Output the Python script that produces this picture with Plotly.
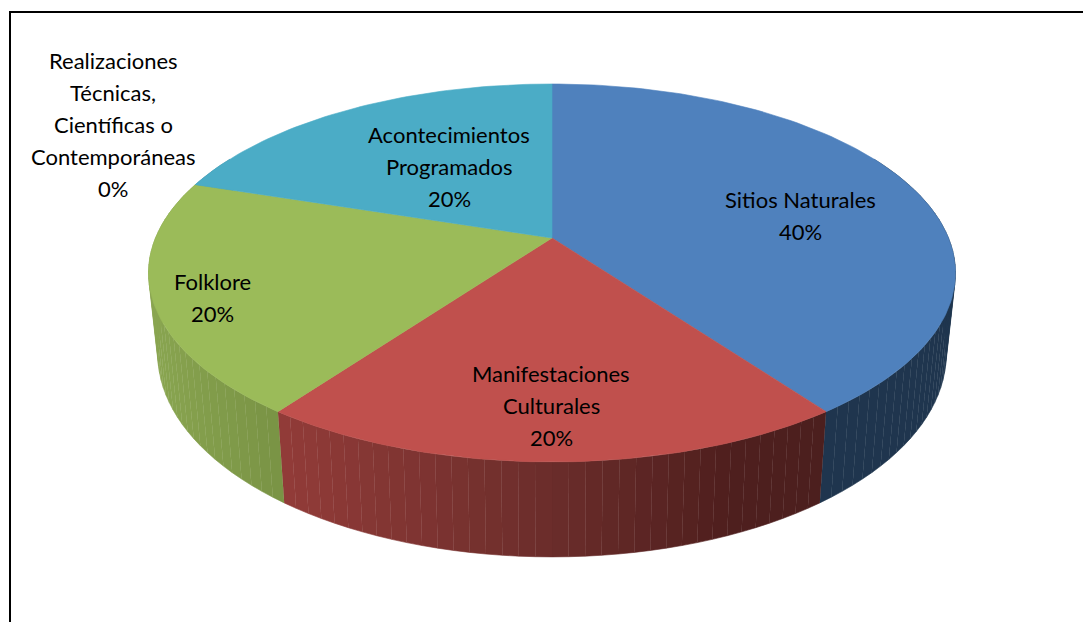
import math
import plotly.graph_objects as go

# chart data, clockwise from the top of the pie
categories = ["Sitios Naturales", "Manifestaciones Culturales", "Folklore",
              "Realizaciones Técnicas, Científicas o Contemporáneas", "Acontecimientos Programados"]
shares = [40, 20, 20, 0, 20]
top_colors = ["#4F81BD", "#C0504D", "#9BBB59", "#8064A2", "#4BACC6"]

# how the category names wrap on the picture
label_lines = [
    ["Sitios Naturales"],
    ["Manifestaciones", "Culturales"],
    ["Folklore"],
    ["Realizaciones", "Técnicas,", "Científicas o", "Contemporáneas"],
    ["Acontecimientos", "Programados"],
]
label_anchor = [(800, 199), (551, 373), (212, 281), (113, 60), (449, 134)]
LINE_STEP = 32

# wall shading, stops are (screen x, colour)
wall_stops = [
    [(0, "#1F354E"), (1083, "#1F354E")],
    [(278, "#933C39"), (552, "#6B2D2B"), (730, "#4F1F1E"), (827, "#4C1F1E")],
    [(150, "#8AA651"), (278, "#7A9445")],
    [(0, "#8064A2"), (1083, "#8064A2")],
    [(0, "#3A8CA3"), (1083, "#3A8CA3")],
]

CX = 552
TILT = 0.185


def project(angle, r=1.0, bottom=False):
    # perspective view of a point on the top or bottom disc, angle clockwise from far side
    u = r * math.sin(angle)
    v = r * math.cos(angle)
    w = 1 + TILT * v
    if bottom:
        return CX + 387.4 * u / w, 316.4 - 196 * v / w
    return CX + 396.5 * u / w, 238 - 182.5 * v / w


def hex_rgb(c):
    return [int(c[i:i + 2], 16) for i in (1, 3, 5)]


def wall_color(stops, x):
    if x <= stops[0][0]:
        return stops[0][1]
    for (x0, c0), (x1, c1) in zip(stops, stops[1:]):
        if x <= x1:
            t = (x - x0) / (x1 - x0)
            a, b = hex_rgb(c0), hex_rgb(c1)
            return "rgb(%d,%d,%d)" % tuple(a[i] + (b[i] - a[i]) * t for i in range(3))
    return stops[-1][1]


def polygon(xs, ys, color):
    return go.Scatter(x=xs, y=ys, mode="lines", fill="toself", fillcolor=color,
                      line=dict(color=color, width=0.6), hoverinfo="skip", showlegend=False)


fig = go.Figure()

total = sum(shares)
edges = [0.0]
for s in shares:
    edges.append(edges[-1] + 2 * math.pi * s / total)

# side walls, only the near half of the pie shows them
VISIBLE_FROM = math.radians(62)
VISIBLE_TO = math.radians(298)
for i, s in enumerate(shares):
    start = max(edges[i], VISIBLE_FROM)
    end = min(edges[i + 1], VISIBLE_TO)
    if s == 0 or end <= start:
        continue
    n = max(int(math.degrees(end - start) / 2), 1)
    for k in range(n):
        a0 = start + (end - start) * k / n
        a1 = start + (end - start) * (k + 1) / n
        p = [project(a0), project(a1), project(a1, bottom=True), project(a0, bottom=True)]
        xs = [q[0] for q in p]
        ys = [q[1] for q in p]
        fig.add_trace(polygon(xs, ys, wall_color(wall_stops[i], sum(xs) / 4)))

# top face
for i, s in enumerate(shares):
    if s == 0:
        continue
    n = max(int(s * 3), 2)
    arc = [project(edges[i] + (edges[i + 1] - edges[i]) * k / n) for k in range(n + 1)]
    apex = project(0, r=0)
    fig.add_trace(polygon([apex[0]] + [q[0] for q in arc] + [apex[0]],
                          [apex[1]] + [q[1] for q in arc] + [apex[1]], top_colors[i]))

# labels, one annotation per line so the spacing follows the picture
for lines, share, (lx, ly) in zip(label_lines, shares, label_anchor):
    for j, text in enumerate(lines + [f"{share}%"]):
        fig.add_annotation(x=lx, y=ly + j * LINE_STEP, text=text, showarrow=False,
                           xanchor="center", yanchor="middle",
                           font=dict(family="Lato", size=22, color="#000000"))

# outer frame of the chart area, runs off the page on the right and bottom
fig.add_shape(type="rect", x0=10, y0=12, x1=1100, y1=640,
              line=dict(color="#000000", width=2), fillcolor="rgba(0,0,0,0)")

fig.update_layout(
    width=1083, height=622, margin=dict(l=0, r=0, t=0, b=0),
    paper_bgcolor="#FFFFFF", plot_bgcolor="#FFFFFF", showlegend=False,
    xaxis=dict(range=[0, 1083], visible=False, fixedrange=True),
    yaxis=dict(range=[622, 0], visible=False, fixedrange=True),
)

fig.write_html("out.html", config=dict(displayModeBar=False),
               post_script="document.body.style.margin='0';document.body.style.overflow='hidden';")
